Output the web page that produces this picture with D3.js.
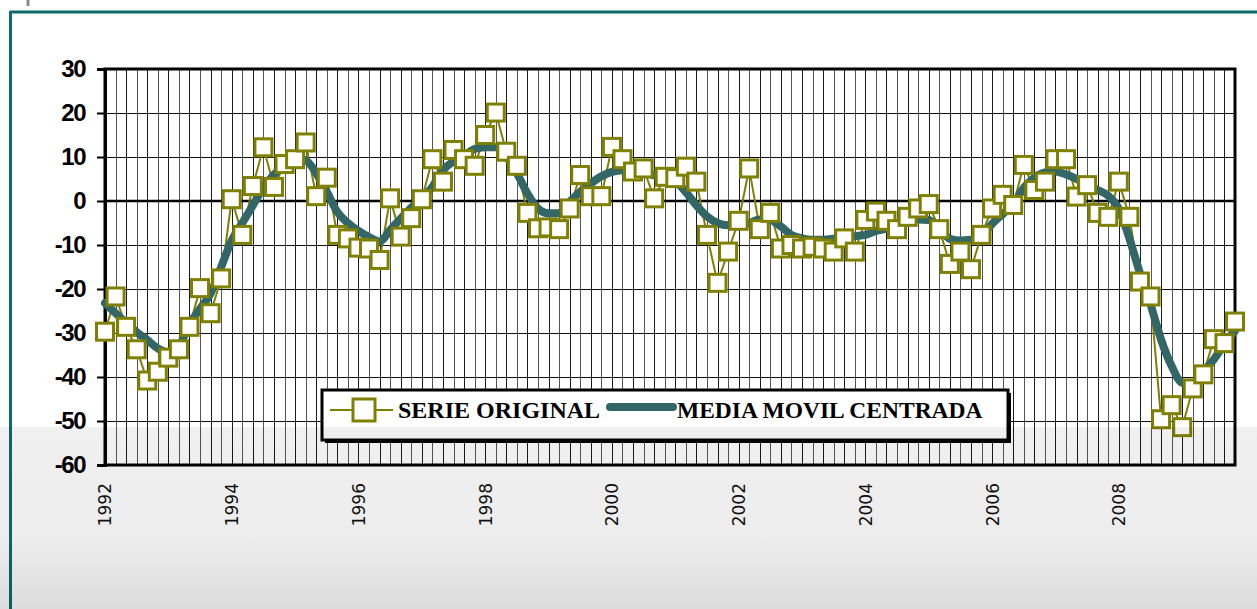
<!DOCTYPE html>
<html>
<head>
<meta charset="utf-8">
<script src="https://cdn.jsdelivr.net/npm/d3@7"></script>
<style>
	body { margin: 0; background: #ffffff; }
	svg { display: block; }
</style>
</head>
<body>
<div id="chart"></div>
<script>
	// bimonthly periods 1992 - 2009 (6 per year)
	var firstYear = 1992
	var lastYear = 2009
	var periods = []
	for (var y = firstYear; y <= lastYear; y++) {
		for (var p = 1; p <= 6; p++) periods.push(y + "-" + p)
	}

	var yearLabels = ["1992", "1994", "1996", "1998", "2000", "2002", "2004", "2006", "2008"]
	var yTicks = [-60, -50, -40, -30, -20, -10, 0, 10, 20, 30]

	// SERIE ORIGINAL
	var serieOriginal = [
		-29.7, -21.7, -28.6, -33.7, -40.8, -38.8, -35.6, -33.7, -28.6, -19.8, -25.5, -17.6,
		0.4, -7.7, 3.4, 12.2, 3.2, 8.4, 9.5, 13.3, 1.1, 5.3, -7.7, -8.5,
		-10.6, -10.8, -13.4, 0.6, -8.1, -3.9, 0.4, 9.5, 4.4, 11.6, 9.5, 8.0,
		15.0, 20.1, 11.2, 8.0, -2.7, -6.2, -6.0, -6.4, -1.7, 5.9, 1.1, 1.1,
		12.3, 9.5, 6.7, 7.4, 0.6, 5.5, 5.2, 7.8, 4.4, -7.7, -18.6, -11.5,
		-4.5, 7.4, -6.4, -2.7, -10.8, -10.0, -10.8, -10.4, -10.8, -11.5, -8.5, -11.5,
		-4.3, -2.4, -4.5, -6.4, -3.6, -1.7, -0.7, -6.4, -14.3, -11.5, -15.5, -7.7,
		-1.7, 1.4, -0.9, 8.2, 2.5, 4.4, 9.5, 9.5, 1.0, 3.6, -2.7, -3.6,
		4.4, -3.6, -18.3, -21.7, -49.6, -46.4, -51.4, -42.6, -39.4, -31.4, -32.3, -27.4
	]

	// MEDIA MOVIL CENTRADA
	var mediaMovil = [
		-23.2, -25.5, -27.7, -29.8, -31.6, -33.5, -34.5, -33.0, -28.0, -24.5, -21.0, -15.0,
		-9.0, -5.0, -1.0, 3.0, 6.0, 8.0, 9.8, 9.3, 6.3, 2.1, -2.5, -5.0,
		-6.8, -8.2, -9.2, -6.6, -4.0, -1.5, 0.5, 3.2, 7.0, 9.0, 10.3, 11.8,
		12.2, 12.2, 10.1, 6.3, 1.7, -1.7, -2.8, -2.8, -0.2, 2.1, 4.0, 5.6,
		6.6, 7.0, 7.0, 6.5, 5.8, 5.2, 4.5, 2.0, -1.0, -3.5, -5.0, -5.5,
		-5.5, -5.0, -4.2, -4.3, -5.8, -7.7, -8.5, -8.8, -8.8, -8.6, -8.3, -8.0,
		-7.7, -6.8, -6.3, -5.5, -4.8, -4.2, -4.3, -6.4, -8.6, -9.0, -8.8, -8.0,
		-5.2, -3.0, -0.8, 3.0, 5.3, 6.5, 6.7, 6.0, 5.0, 3.6, 2.5, 1.2,
		-1.8, -8.5, -16.4, -23.5, -31.5, -37.5, -41.3, -41.5, -38.8, -36.0, -32.5, -29.5
	]

	var width = 1257
	var height = 609
	var olive = "#808000"
	var teal = "#336666"

	var svg = d3.select("#chart")
		.append("svg")
		.attr("width", width)
		.attr("height", height)

	// outer frame (teal, only top and left visible)
	svg.append("line").attr("x1", 10).attr("x2", width).attr("y1", 12).attr("y2", 12)
		.style("stroke", "#0f6b6b").style("stroke-width", 3)
	svg.append("line").attr("x1", 10.5).attr("x2", 10.5).attr("y1", 11).attr("y2", height)
		.style("stroke", "#0f6b6b").style("stroke-width", 3)
	svg.append("line").attr("x1", 28).attr("x2", 28).attr("y1", 0).attr("y2", 6)
		.style("stroke", "#888").style("stroke-width", 3)

	var xScale = d3.scalePoint()
		.domain(periods)
		.range([105, 1235])

	var yScale = d3.scaleLinear()
		.domain([-60, 30])
		.range([465, 69])

	var plotTop = yScale(30), plotBottom = yScale(-60)
	var plotLeft = xScale(periods[0]), plotRight = xScale(periods[periods.length - 1])

	// vertical gridlines, one per period
	svg.append("g").selectAll("line")
		.data(periods.slice(1, -1))
		.enter().append("line")
		.attr("x1", function (d) { return Math.round(xScale(d)) + 0.5 })
		.attr("x2", function (d) { return Math.round(xScale(d)) + 0.5 })
		.attr("y1", plotTop)
		.attr("y2", plotBottom)
		.style("stroke", function (d, i) { return i % 2 ? "#1a1a1a" : "#555" })
		.style("stroke-width", 1)

	// horizontal gridlines
	svg.append("g").selectAll("line")
		.data(yTicks.filter(function (d) { return d != 0 && d != 30 && d != -60 }))
		.enter().append("line")
		.attr("x1", plotLeft)
		.attr("x2", plotRight)
		.attr("y1", function (d) { return Math.round(yScale(d)) + 0.5 })
		.attr("y2", function (d) { return Math.round(yScale(d)) + 0.5 })
		.style("stroke", "#111")
		.style("stroke-width", 1)

	// zero line
	svg.append("line")
		.attr("x1", plotLeft).attr("x2", plotRight)
		.attr("y1", yScale(0)).attr("y2", yScale(0))
		.style("stroke", "#000").style("stroke-width", 2.5)

	// plot border
	svg.append("rect")
		.attr("x", plotLeft).attr("y", plotTop)
		.attr("width", plotRight - plotLeft).attr("height", plotBottom - plotTop)
		.style("fill", "none").style("stroke", "#000").style("stroke-width", 3)

	// y axis (plain hyphen for negatives, like the original)
	var yAxis = svg.append("g")
		.attr("transform", "translate(" + plotLeft + ",0)")
		.call(d3.axisLeft(yScale).tickValues(yTicks).tickSize(8).tickPadding(12)
			.tickFormat(function (d) { return String(d) }))
	yAxis.select(".domain").style("stroke", "#000").style("stroke-width", 3)
	yAxis.selectAll(".tick line").style("stroke", "#000").style("stroke-width", 2)
	yAxis.selectAll(".tick text")
		.style("font-family", "'Liberation Sans', Arial, sans-serif")
		.style("font-weight", "bold")
		.style("font-size", "24px")
		.style("letter-spacing", "-1.5px")
		.style("fill", "#000")

	// x axis
	var yearTicks = periods.filter(function (d) {
		return yearLabels.indexOf(d.split("-")[0]) >= 0 && d.split("-")[1] == "1"
	})
	var xAxis = svg.append("g")
		.attr("transform", "translate(0," + plotBottom + ")")
		.call(d3.axisBottom(xScale).tickValues(yearTicks).tickSize(0)
			.tickFormat(function (d) { return d.split("-")[0] }))
	xAxis.select(".domain").remove()
	xAxis.selectAll(".tick text")
		.attr("transform", "rotate(-90)")
		.attr("x", -18)
		.attr("y", 0)
		.attr("dy", "0.35em")
		.style("text-anchor", "end")
		.style("font-family", "'DejaVu Sans', Verdana, sans-serif")
		.style("font-size", "17px")
		.style("fill", "#111")

	// original series line
	var line = d3.line()
		.x(function (d, i) { return xScale(periods[i]) })
		.y(function (d) { return yScale(d) })

	svg.append("path")
		.datum(serieOriginal)
		.attr("d", line)
		.style("fill", "none")
		.style("stroke", olive)
		.style("stroke-width", 2)

	// centered moving average
	svg.append("path")
		.datum(mediaMovil)
		.attr("d", line.curve(d3.curveMonotoneX))
		.style("fill", "none")
		.style("stroke", teal)
		.style("stroke-width", 8)
		.style("stroke-linejoin", "round")
		.style("stroke-linecap", "round")

	// markers
	svg.append("g").selectAll("rect")
		.data(serieOriginal)
		.enter().append("rect")
		.attr("x", function (d, i) { return xScale(periods[i]) - 8.5 })
		.attr("y", function (d) { return yScale(d) - 8.5 })
		.attr("width", 17)
		.attr("height", 17)
		.style("fill", "#fff")
		.style("stroke", olive)
		.style("stroke-width", 3)

	// legend
	var lg = svg.append("g")
	lg.append("rect").attr("x", 325).attr("y", 393).attr("width", 686).attr("height", 50)
		.style("fill", "#000")
	lg.append("rect").attr("x", 322).attr("y", 390).attr("width", 686).attr("height", 50)
		.style("fill", "#fff").style("stroke", "#000").style("stroke-width", 3)
	lg.append("line").attr("x1", 330).attr("x2", 393).attr("y1", 410).attr("y2", 410)
		.style("stroke", olive).style("stroke-width", 2)
	lg.append("rect").attr("x", 353).attr("y", 399).attr("width", 22).attr("height", 22)
		.style("fill", "#fff").style("stroke", olive).style("stroke-width", 3)
	lg.append("text").attr("x", 398).attr("y", 418)
		.text("SERIE ORIGINAL")
		.style("font-family", "'Liberation Serif', 'Times New Roman', serif")
		.style("font-weight", "bold").style("font-size", "24px")
	lg.append("line").attr("x1", 610).attr("x2", 673).attr("y1", 407).attr("y2", 407)
		.style("stroke", teal).style("stroke-width", 8).style("stroke-linecap", "round")
	lg.append("text").attr("x", 677).attr("y", 418)
		.text("MEDIA MOVIL CENTRADA")
		.style("font-family", "'Liberation Serif', 'Times New Roman', serif")
		.style("font-weight", "bold").style("font-size", "23.5px")

	// grey band over the lower part of the picture
	var defs = svg.append("defs")
	var grad = defs.append("linearGradient").attr("id", "fade")
		.attr("x1", 0).attr("y1", 0).attr("x2", 0).attr("y2", 1)
	grad.append("stop").attr("offset", "0").attr("stop-color", "#000").attr("stop-opacity", 0.06)
	grad.append("stop").attr("offset", "0.6").attr("stop-color", "#000").attr("stop-opacity", 0.07)
	grad.append("stop").attr("offset", "1").attr("stop-color", "#000").attr("stop-opacity", 0.14)
	svg.append("rect")
		.attr("x", 0).attr("y", 427)
		.attr("width", width).attr("height", height - 427)
		.style("fill", "url(#fade)")
		.style("pointer-events", "none")
</script>
</body>
</html>
